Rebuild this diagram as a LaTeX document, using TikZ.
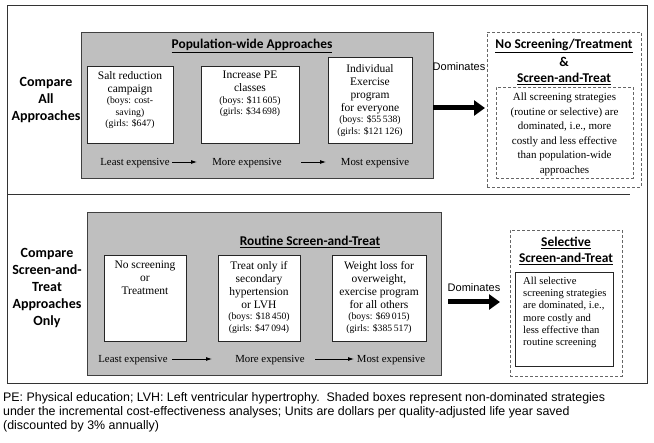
\documentclass[tikz,border=0pt]{standalone}
\usepackage{fontspec}
\setmainfont{Liberation Serif}
\newfontfamily\hfont{Carlito}
\newfontfamily\afont{Liberation Sans}
\usetikzlibrary{arrows.meta}
\begin{document}
\begin{tikzpicture}[x=1pt,y=-1pt,
  frame/.style={draw=black!80, line width=1pt, inner sep=0pt},
  shaded/.style={draw=black!75, line width=0.9pt, fill=black!25, inner sep=0pt},
  wbox/.style={draw=black!85, line width=1pt, fill=white, inner sep=0pt},
  dbox/.style={draw=black!60, densely dashed, line width=0.6pt, inner sep=0pt},
  side/.style={font=\hfont\bfseries\fontsize{14}{17}\selectfont, align=center, inner sep=0pt},
  ttl/.style={font=\hfont\bfseries\fontsize{13.4}{15}\selectfont, inner sep=0pt},
  btxt/.style={font=\fontsize{11.5}{13}\selectfont, align=center, inner sep=0pt, anchor=north},
  rowtxt/.style={font=\fontsize{10.8}{12}\selectfont, inner sep=0pt},
  arr/.style={-{Latex[length=6pt,width=4pt]}, line width=0.8pt},
  dom/.style={-{Triangle[length=11pt,width=15pt]}, line width=5pt},
  domtxt/.style={font=\afont\fontsize{11}{13}\selectfont, inner sep=0pt}]
\newcommand{\smf}{\fontsize{9.7}{11}\selectfont}
\useasboundingbox (0,0) rectangle (654,443);
% outer frame
\node[frame, minimum width=640, minimum height=378] (frm) at (327,195) {};
\coordinate (dv1) at (7,195);
\coordinate (dv2) at (630,195);
\draw[line width=1pt, black!80] (dv1) -- (dv2);

% ---------- top section
\node[side] (s1) at (46,100) {Compare\\All\\Approaches};
\node[shaded, minimum width=352, minimum height=146] (g1) at (257,105) {};
\node[ttl] (t1) at (252,46) {\underline{Population-wide Approaches}};
\node[wbox, minimum width=86, minimum height=77] (b1) at (130,105.5) {};
\node[wbox, minimum width=98, minimum height=77] (b2) at (250,105.5) {};
\node[wbox, minimum width=84, minimum height=86] (b3) at (370,101) {};
\node[btxt] (b1t) at (130,71) {Salt reduction\\campaign\\[-1.5pt]{\smf (boys: cost-}\\[-1.5pt]{\smf saving)}\\[-1.5pt]{\smf (girls: \$647)}};
\node[btxt] (b2t) at (250,71) {Increase PE\\classes\\[-1.5pt]{\smf (boys: \$11\,605)}\\[-1.5pt]{\smf (girls: \$34\,698)}};
\node[btxt] (b3t) at (370,64) {Individual\\Exercise\\program\\for everyone\\[-1.5pt]{\smf (boys: \$55\,538)}\\[-1.5pt]{\smf (girls: \$121\,126)}};
\node[rowtxt] (l1) at (135,163) {Least expensive};
\node[rowtxt] (m1) at (247,163) {More expensive};
\node[rowtxt] (x1) at (375,163) {Most expensive};
\coordinate (a1s) at (172,162); \coordinate (a1e) at (197,162);
\coordinate (a2s) at (301,162); \coordinate (a2e) at (326,162);
\draw[arr] (a1s) -- (a1e);
\draw[arr] (a2s) -- (a2e);
\node[domtxt] (d1) at (459,67) {Dominates};
\coordinate (d1s) at (433,108); \coordinate (d1e) at (485,108);
\draw[dom] (d1s) -- (d1e);
\node[dbox, minimum width=154, minimum height=155] (r1) at (564,109.5) {};
\node[ttl] (r1a) at (564,46) {\underline{No Screening/Treatment}};
\node[ttl] (r1b) at (564,62) {\&};
\node[ttl] (r1c) at (564,79) {\underline{Screen-and-Treat}};
\node[dbox, minimum width=137, minimum height=91] (ri1) at (564.5,132.5) {};
\node[btxt, font=\fontsize{11}{14.5}\selectfont] (ri1t) at (564.5,93) {All screening strategies\\(routine or selective) are\\dominated, i.e., more\\costly and less effective\\than population-wide\\approaches};

% ---------- bottom section
\node[side] (s2) at (47,288) {Compare\\Screen-and-\\Treat\\Approaches\\Only};
\node[shaded, minimum width=354, minimum height=163] (g2) at (264,293.5) {};
\node[ttl] (t2) at (310,242) {\underline{Routine Screen-and-Treat}};
\node[wbox, minimum width=82, minimum height=86] (c1) at (145,299) {};
\node[wbox, minimum width=82, minimum height=86] (c2) at (259,299) {};
\node[wbox, minimum width=94, minimum height=86] (c3) at (379,299) {};
\node[btxt] (c1t) at (145,261) {No screening\\or\\Treatment};
\node[btxt] (c2t) at (259,261) {Treat only if\\secondary\\hypertension\\or LVH\\[-1.5pt]{\smf (boys: \$18\,450)}\\[-1.5pt]{\smf (girls: \$47\,094)}};
\node[btxt] (c3t) at (379,261) {Weight loss for\\overweight,\\exercise program\\for all others\\[-1.5pt]{\smf (boys: \$69\,015)}\\[-1.5pt]{\smf (girls: \$385\,517)}};
\node[rowtxt] (l2) at (133,360) {Least expensive};
\node[rowtxt] (m2) at (270,360) {More expensive};
\node[rowtxt] (x2) at (391,360) {Most expensive};
\coordinate (a3s) at (172,359); \coordinate (a3e) at (212,359);
\coordinate (a4s) at (315,359); \coordinate (a4e) at (354,359);
\draw[arr] (a3s) -- (a3e);
\draw[arr] (a4s) -- (a4e);
\node[domtxt] (d2) at (474,288) {Dominates};
\coordinate (d2s) at (448,302); \coordinate (d2e) at (500,302);
\draw[dom] (d2s) -- (d2e);
\node[dbox, minimum width=112, minimum height=146] (r2) at (566,303) {};
\node[ttl] (r2a) at (566,243) {\underline{Selective}};
\node[ttl] (r2b) at (566,259) {\underline{Screen-and-Treat}};
\node[wbox, minimum width=98, minimum height=94] (ri2) at (564,320) {};
\node[btxt, anchor=north west, align=left, font=\fontsize{10.6}{12.2}\selectfont] (ri2t) at (523,277) {All selective\\screening strategies\\are dominated, i.e.,\\more costly and\\less effective than\\routine screening};

% ---------- footer
\node[anchor=north west, align=left, inner sep=0pt, font=\afont\fontsize{12.4}{14}\selectfont] (foot) at (3,392) {PE: Physical education; LVH: Left ventricular hypertrophy.\ \ Shaded boxes represent non-dominated strategies\\under the incremental cost-effectiveness analyses; Units are dollars per quality-adjusted life year saved\\(discounted by 3\% annually)};
\end{tikzpicture}
\end{document}
